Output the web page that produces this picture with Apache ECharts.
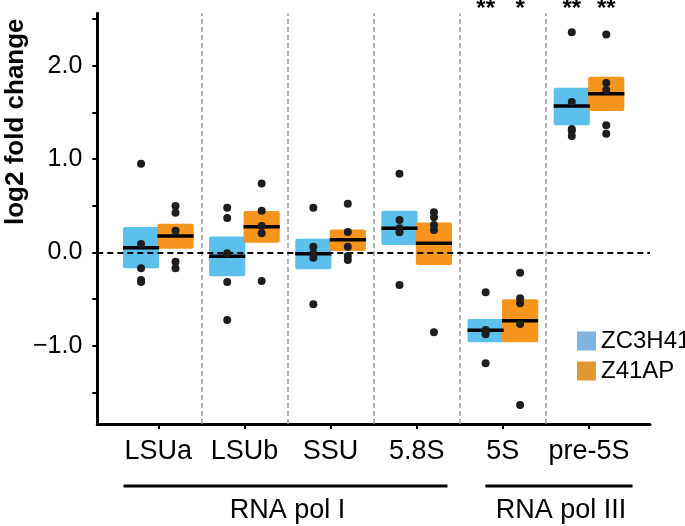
<!DOCTYPE html>
<html>
<head>
<meta charset="utf-8">
<script src="https://cdn.jsdelivr.net/npm/echarts@6/dist/echarts.min.js"></script>
<style>
html,body{margin:0;padding:0;background:#fff;}
#chart{width:685px;height:526px;}
</style>
</head>
<body>
<div id="chart"></div>
<script>
// ---- data ----
const categories = ['LSUa', 'LSUb', 'SSU', '5.8S', '5S', 'pre-5S'];
const seriesNames = ['ZC3H41', 'Z41AP'];

const zcLow  = [-0.171, -0.257, -0.182, 0.078, -0.965, 1.361];
const zcHigh = [0.271, 0.171, 0.146, 0.446, -0.715, 1.764];
const zcMean = [0.049, -0.043, -0.015, 0.257, -0.836, 1.568];
const zcPoints = [
  [0.95, 0.089, -0.171, -0.297, -0.318],
  [0.478, 0.368, -0.011, -0.318, -0.726],
  [0.478, 0.06, -0.011, -0.058, -0.557],
  [0.842, 0.346, 0.257, 0.214, -0.35],
  [-0.429, -0.833, -0.85, -0.879, -1.19],
  [2.358, 1.611, 1.321, 1.303, 1.246]
];

const zaLow  = [0.039, 0.103, 0.014, -0.136, -0.965, 1.514];
const zaHigh = [0.307, 0.443, 0.246, 0.321, -0.504, 1.882];
const zaMean = [0.175, 0.274, 0.135, 0.096, -0.733, 1.700];
const zaPoints = [
  [0.496, 0.425, 0.232, -0.1, -0.171],
  [0.739, 0.446, 0.282, 0.204, -0.308],
  [0.521, 0.218, 0.06, -0.04, -0.083],
  [0.429, 0.375, 0.293, 0.239, -0.857],
  [-0.218, -0.493, -0.547, -0.768, -1.637],
  [2.336, 1.814, 1.739, 1.361, 1.271]
];

const zcStars = ['', '', '', '', '**', '**'];
const zaStars = ['', '', '', '', '*', '**'];

const groupNames = ['RNA pol I', 'RNA pol III'];
const groupFirst = [0, 4];
const groupLast = [3, 5];

const yTickValues = [-1.5, -1, -0.5, 0, 0.5, 1, 1.5, 2, 2.5];
const yLabelValues = [-1, 0, 1, 2];
const dividerValues = [0.5, 1.5, 2.5, 3.5, 4.5];

// ---- styling / layout ----
const FONT = '"Liberation Sans", Arial, Helvetica, sans-serif';
const boxColors = ['#5bc0ec', '#f7941d'];
const legendColors = ['#7fb3e0', '#e0992e'];
const groupOffset = [-0.2, 0.2];
const boxWidth = 0.42;

function boxData(low, high, mean) {
  return categories.map((c, i) => [i, low[i], high[i], mean[i]]);
}
function pointData(points, off) {
  const out = [];
  points.forEach((arr, i) => arr.forEach(v => out.push([i + off, v])));
  return out;
}

function boxSeries(idx, data) {
  const off = groupOffset[idx];
  return {
    name: seriesNames[idx],
    type: 'custom',
    z: 2,
    itemStyle: { color: legendColors[idx] },
    renderItem: function (params, api) {
      const x = api.value(0) + off;
      const p1 = api.coord([x - boxWidth / 2, api.value(2)]);
      const p2 = api.coord([x + boxWidth / 2, api.value(1)]);
      const m1 = api.coord([x - boxWidth / 2, api.value(3)]);
      const m2 = api.coord([x + boxWidth / 2, api.value(3)]);
      return {
        type: 'group',
        children: [
          { type: 'rect', z2: 1,
            shape: { x: p1[0], y: p1[1], width: p2[0] - p1[0], height: p2[1] - p1[1], r: 2 },
            style: { fill: boxColors[idx] } },
          { type: 'line', z2: 50,
            shape: { x1: m1[0], y1: m1[1], x2: m2[0], y2: m2[1] },
            style: { stroke: '#000', lineWidth: 3.5 } }
        ]
      };
    },
    encode: { x: 0, y: [1, 2, 3] },
    data: data
  };
}

const chart = echarts.init(document.getElementById('chart'), null, { renderer: 'canvas' });

const option = {
  animation: false,
  backgroundColor: '#ffffff',
  textStyle: { fontFamily: FONT },
  grid: { left: 97.3, right: 35, top: 13.3, bottom: 102, containLabel: false, outerBoundsMode: 'none' },
  legend: {
    orient: 'vertical',
    left: 572, top: 324,
    itemWidth: 19, itemHeight: 19, itemGap: 6,
    icon: 'rect',
    textStyle: { fontSize: 24, color: '#000', fontFamily: FONT },
    data: [
      { name: seriesNames[0], itemStyle: { color: legendColors[0] } },
      { name: seriesNames[1], itemStyle: { color: legendColors[1] } }
    ]
  },
  xAxis: {
    type: 'value',
    min: -0.708, max: 5.708,
    splitLine: { show: false },
    axisLine: { onZero: false, lineStyle: { color: '#000', width: 3 } },
    axisTick: { show: true, customValues: categories.map((c, i) => i), length: 5, lineStyle: { color: '#000', width: 2 } },
    axisLabel: {
      customValues: categories.map((c, i) => i),
      formatter: v => categories[Math.round(v)],
      fontSize: 27, color: '#000', margin: 14, fontFamily: FONT
    }
  },
  yAxis: {
    type: 'value',
    min: -1.84, max: 2.562,
    splitLine: { show: false },
    axisLine: { onZero: false, lineStyle: { color: '#000', width: 3 } },
    axisTick: { show: true, customValues: yTickValues, length: 5, lineStyle: { color: '#000', width: 2 } },
    axisLabel: {
      customValues: yLabelValues,
      formatter: v => v.toFixed(1).replace('-', '\u2212'),
      fontSize: 25, color: '#000', margin: 15, fontFamily: FONT
    }
  },
  series: [
    {
      type: 'line', data: [], silent: true, z: 1,
      markLine: {
        silent: true, symbol: 'none', animation: false,
        label: { show: false },
        data: dividerValues.map(v => ({ xAxis: v, lineStyle: { color: '#999', width: 1.5, type: [5, 3] } }))
          .concat([{ yAxis: 0, lineStyle: { color: '#000', width: 2, type: [6, 4] } }])
      }
    },
    boxSeries(0, boxData(zcLow, zcHigh, zcMean)),
    boxSeries(1, boxData(zaLow, zaHigh, zaMean)),
    {
      type: 'scatter', z: 5, symbolSize: 8, silent: true,
      itemStyle: { color: '#1e1e1e', opacity: 1 },
      data: pointData(zcPoints, groupOffset[0])
    },
    {
      type: 'scatter', z: 5, symbolSize: 8, silent: true,
      itemStyle: { color: '#1e1e1e', opacity: 1 },
      data: pointData(zaPoints, groupOffset[1])
    }
  ]
};
chart.setOption(option);

// ---- annotations: y title, significance stars, group brackets ----
const ctx = document.createElement('canvas').getContext('2d');
ctx.font = '27px ' + FONT;
function px(x, y) { return chart.convertToPixel({ gridIndex: 0 }, [x, y]); }

const axisY = px(0, -1.84)[1];
const graphics = [];

graphics.push({
  type: 'text', x: 16, y: 121.7, rotation: Math.PI / 2,
  style: { text: 'log2 fold change', font: 'bold 26px ' + FONT, fill: '#000', align: 'center', verticalAlign: 'middle' }
});

[zcStars, zaStars].forEach((stars, g) => {
  stars.forEach((s, i) => {
    if (!s) return;
    const p = px(i + groupOffset[g], 0);
    graphics.push({
      type: 'text', x: p[0], y: -3,
      style: { text: s, font: 'bold 24px ' + FONT, fill: '#000', align: 'center', verticalAlign: 'top' }
    });
  });
});

groupNames.forEach((name, k) => {
  const a = groupFirst[k], b = groupLast[k];
  const left = px(a, 0)[0] - ctx.measureText(categories[a]).width / 2 - 1;
  const right = px(b, 0)[0] + ctx.measureText(categories[b]).width / 2 + 3;
  const yLine = axisY + 62;
  graphics.push({
    type: 'line', shape: { x1: left, y1: yLine, x2: right, y2: yLine },
    style: { stroke: '#000', lineWidth: 3 }
  });
  graphics.push({
    type: 'text', x: (left + right) / 2 + 2, y: yLine + 25,
    style: { text: name, font: '27px ' + FONT, fill: '#000', align: 'center', verticalAlign: 'middle' }
  });
});

chart.setOption({ graphic: graphics });
</script>
</body>
</html>
